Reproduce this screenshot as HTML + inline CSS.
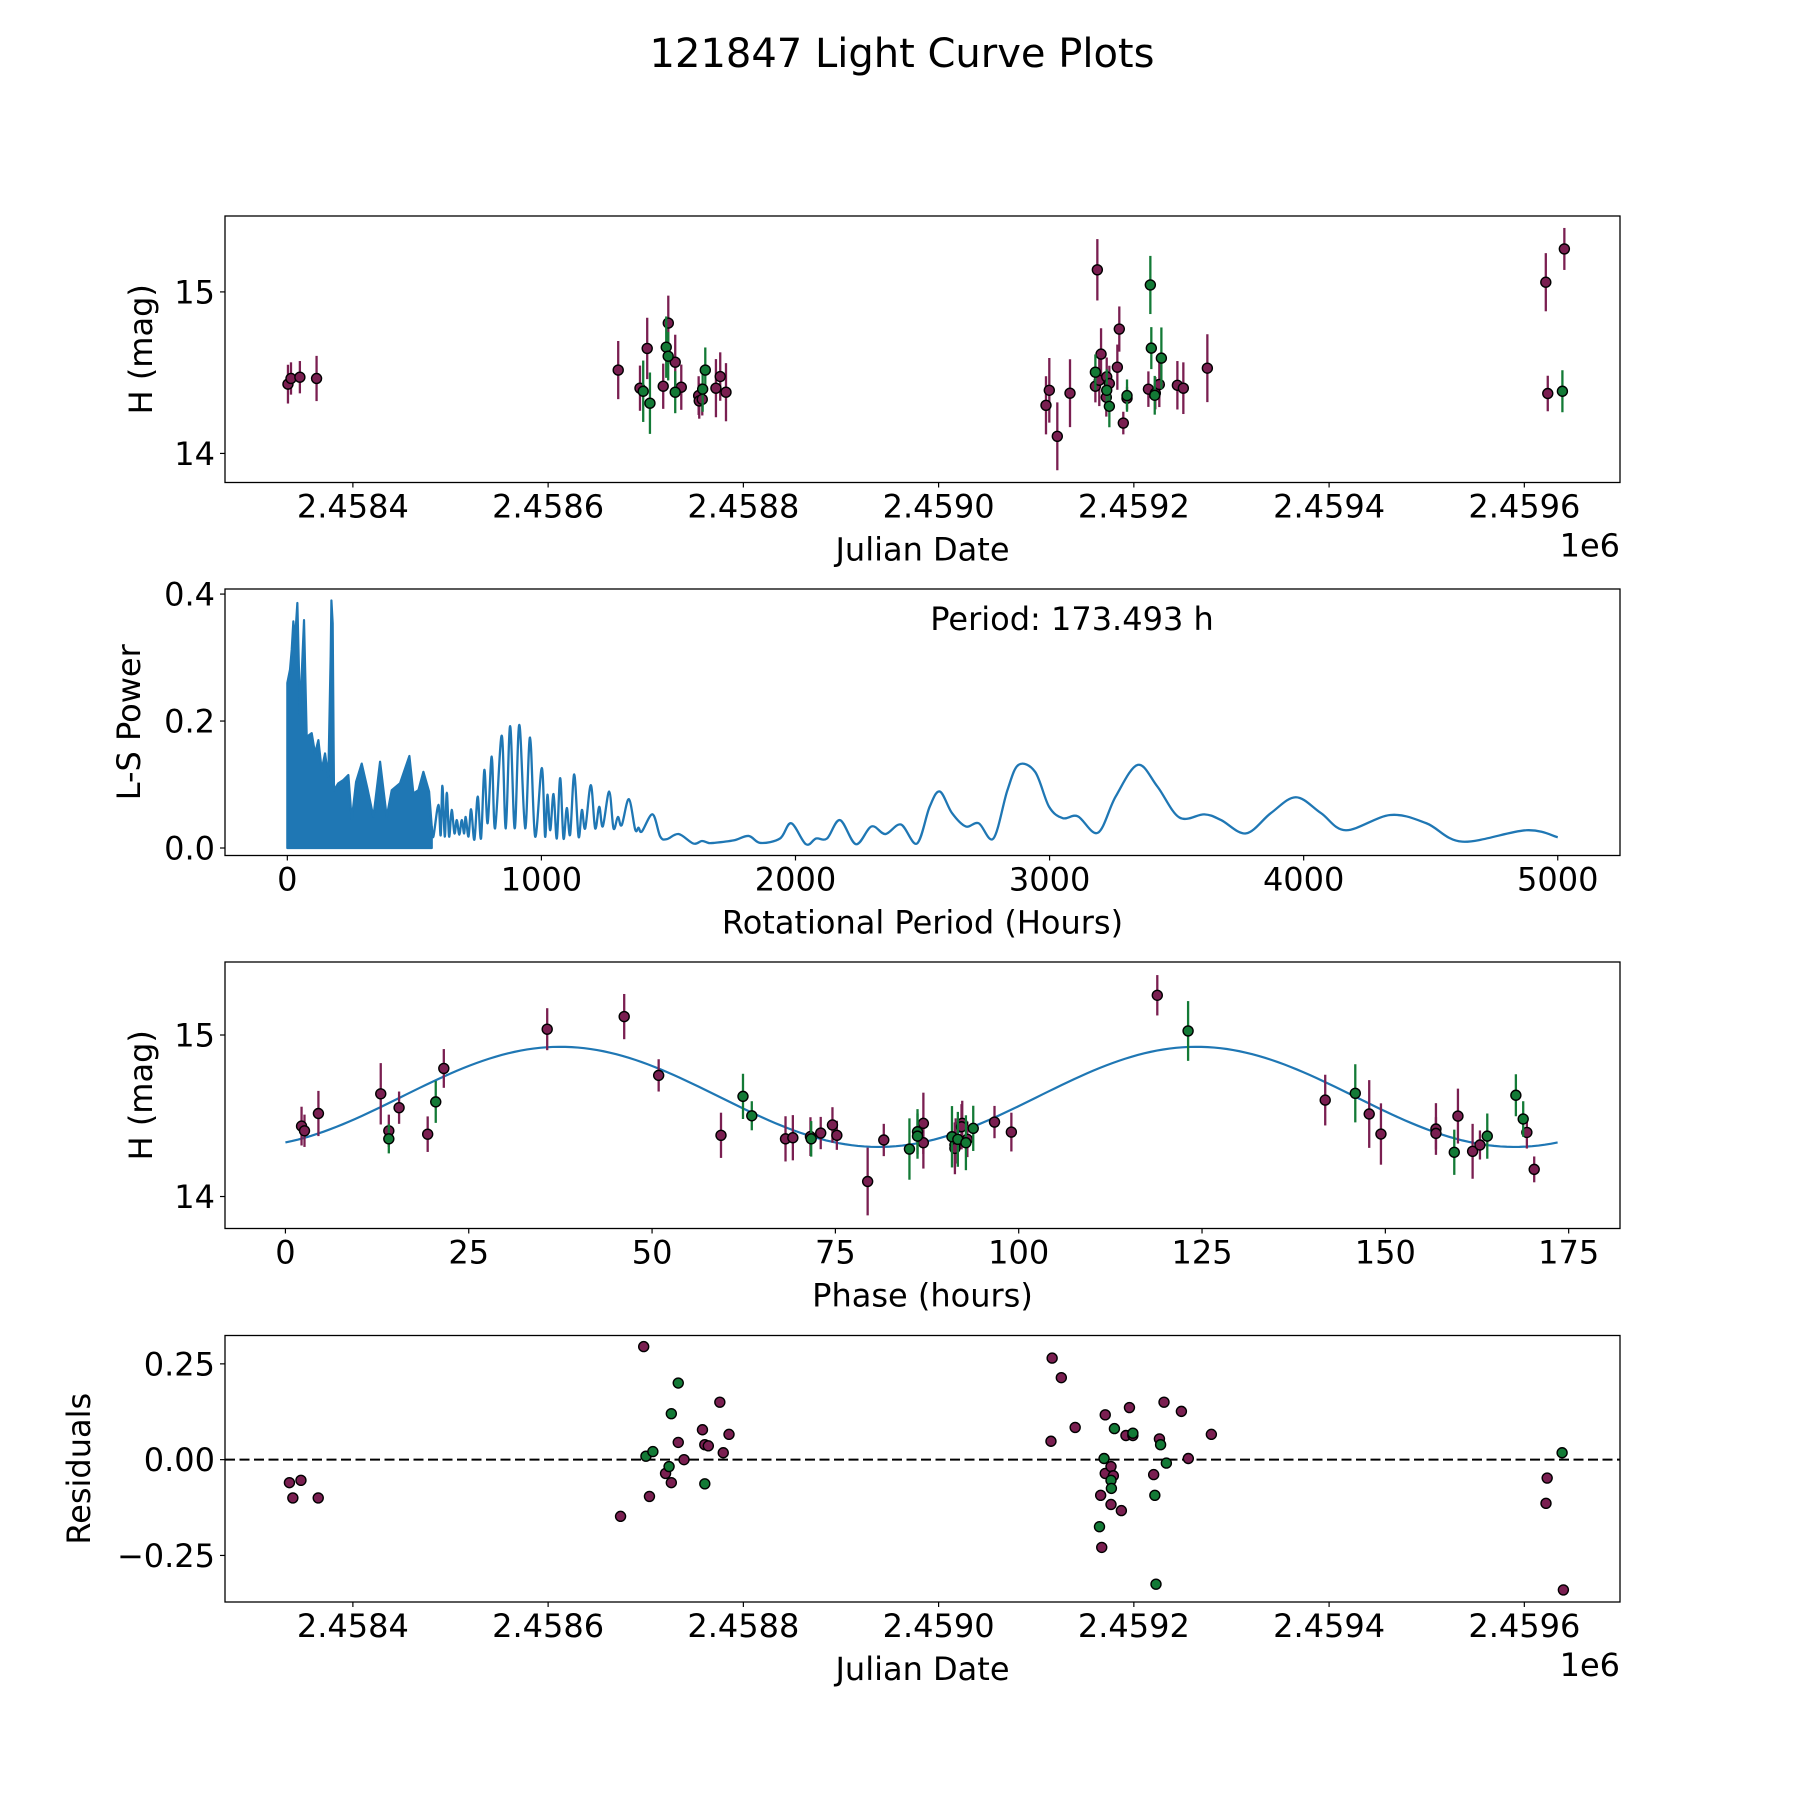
<!DOCTYPE html>
<html><head><meta charset="utf-8"><title>121847 Light Curve Plots</title>
<style>
html,body{margin:0;padding:0;background:#fff;}
svg{display:block;font-family:"DejaVu Sans","Liberation Sans",sans-serif;}
</style></head>
<body>
<svg id="fig" width="1800" height="1800" viewBox="0 0 1800 1800" xmlns="http://www.w3.org/2000/svg">
<rect width="1800" height="1800" fill="#fff"/>
<text x="902" y="67" font-size="40" text-anchor="middle" fill="#000">121847 Light Curve Plots</text>
</svg>
<script>
// ---------- Panel 1: light curve vs Julian date ----------
const p1PurpleJD = [2458333.5,2458336.6,2458345.7,2458362.8,2458671.8,2458694.1,2458701.5,2458723.1,2458730.2,2458717.9,2458736.4,2458754.2,2458754.8,2458757.9,2458771.9,2458776.3,2458782.2,2459162.6,2459185.1,2459166.4,2459183.1,2459113.4,2459110.0,2459134.6,2459121.6,2459160.6,2459164.6,2459172.2,2459174.9,2459171.8,2459193.0,2459189.2,2459214.9,2459222.0,2459226.1,2459244.6,2459250.7,2459275.3,2459622,2459641,2459624];
const p1PurpleH = [14.429,14.464,14.472,14.464,14.516,14.404,14.650,14.807,14.565,14.416,14.410,14.358,14.325,14.335,14.404,14.476,14.379,15.137,14.770,14.615,14.534,14.391,14.298,14.373,14.106,14.416,14.453,14.474,14.433,14.348,14.342,14.188,14.398,14.373,14.427,14.422,14.404,14.528,15.060,15.266,14.371];
const p1PurpleErr = [0.12,0.1,0.1,0.14,0.18,0.14,0.19,0.17,0.17,0.14,0.14,0.12,0.11,0.1,0.18,0.15,0.18,0.19,0.14,0.16,0.14,0.2,0.18,0.21,0.21,0.1,0.16,0.12,0.11,0.12,0.07,0.07,0.11,0.1,0.14,0.15,0.16,0.21,0.18,0.13,0.11];
const p1GreenJD = [2458697.4,2458704.3,2458721.0,2458723.0,2458730.2,2458758.3,2458761.0,2459160.6,2459172.2,2459174.9,2459193.0,2459216.9,2459217.9,2459228.2,2459221.4,2459639];
const p1GreenH = [14.385,14.311,14.658,14.602,14.379,14.398,14.516,14.503,14.391,14.292,14.358,15.043,14.652,14.590,14.360,14.385];
const p1GreenErr = [0.19,0.19,0.19,0.15,0.13,0.14,0.14,0.11,0.13,0.13,0.1,0.18,0.13,0.19,0.12,0.13];
const jdTicks = [2458400,2458600,2458800,2459000,2459200,2459400,2459600];
const jdTickLabels = ["2.4584","2.4586","2.4588","2.4590","2.4592","2.4594","2.4596"];
const magTicks = [14,15];
const magTickLabels = ["14","15"];

// ---------- Panel 2: periodogram ----------
const lsNoisyPeriod = [0,10.6,17.2,23.7,30.3,39.5,50.0,65.7,76.3,95.9,109.0,122.2,135.2,148.4,161.4,170.5,173.5,178.5,183.6,200.8,220.5,240.2,253.4,270.5,292.8,315.1,338.7,365.0,391.2,410.9,443.7,480.4,496.1,515.9,535.5,557.9,568.4];
const lsNoisyPower = [0.260,0.281,0.312,0.357,0.328,0.386,0.210,0.359,0.175,0.181,0.149,0.170,0.123,0.149,0.112,0.302,0.390,0.354,0.091,0.102,0.107,0.115,0.044,0.104,0.133,0.094,0.049,0.136,0.049,0.091,0.102,0.145,0.086,0.091,0.120,0.089,0.034];
const lsPeriod = [568.4,574.9,594.5,603.6,610.3,619.6,627.7,636.7,646.8,657.8,666.9,676.9,686.5,696.0,702.0,713.1,723.1,736.2,749.3,762.3,775.4,788.4,804.5,817.6,843.7,859.8,876.9,895.0,913.0,936.1,955.2,975.3,1001.5,1014.5,1023.6,1034.6,1047.7,1060.7,1073.8,1086.9,1099.9,1113.0,1129.1,1146.2,1159.2,1172.3,1194.4,1211.5,1227.5,1241.6,1266.7,1283.8,1300.9,1316.0,1344.1,1369.2,1382.3,1395.4,1437.5,1467.7,1493.8,1540.0,1598.3,1631.5,1657.6,1677.7,1756.1,1815.4,1862,1939,1983,2041,2081,2124,2175,2238,2299,2354,2415,2478,2528,2568,2616,2670,2721,2779,2834,2878,2943,2998,3052,3111,3190,3260,3347,3424,3511,3609,3675,3773,3871,3969,4068,4166,4341,4483,4624,4876,5000];
const lsPower = [0.034,0.018,0.068,0.020,0.098,0.018,0.087,0.018,0.060,0.023,0.044,0.021,0.044,0.023,0.049,0.018,0.061,0.013,0.081,0.015,0.123,0.039,0.144,0.031,0.177,0.031,0.192,0.031,0.194,0.031,0.174,0.018,0.126,0.018,0.084,0.028,0.085,0.015,0.110,0.015,0.063,0.021,0.116,0.018,0.060,0.031,0.099,0.031,0.065,0.034,0.089,0.031,0.049,0.036,0.077,0.029,0.032,0.026,0.053,0.018,0.014,0.022,0.007,0.011,0.008,0.008,0.012,0.019,0.008,0.015,0.039,0.006,0.015,0.015,0.044,0.006,0.034,0.022,0.037,0.007,0.065,0.089,0.055,0.034,0.039,0.015,0.091,0.131,0.120,0.065,0.047,0.050,0.024,0.081,0.131,0.097,0.048,0.053,0.044,0.023,0.055,0.080,0.055,0.028,0.052,0.039,0.010,0.028,0.017];
const periodTicks = [0,1000,2000,3000,4000,5000];
const periodTickLabels = ["0","1000","2000","3000","4000","5000"];
const powerTicks = [0,0.2,0.4];
const powerTickLabels = ["0.0","0.2","0.4"];

// ---------- Panel 3: phase-folded ----------
const phPurpleT = [2.2,2.6,4.5,13.0,14.1,15.5,19.4,21.6,35.7,46.2,50.9,59.4,68.2,69.2,71.6,73.0,74.6,75.2,79.4,81.6,87.0,87.0,91.4,91.3,91.3,92.3,92.2,93.0,96.7,99.0,118.9,141.8,147.8,149.4,156.9,156.9,159.9,161.9,162.9,169.3,170.3];
const phPurpleH = [14.436,14.407,14.514,14.636,14.407,14.55,14.386,14.793,15.036,15.114,14.75,14.379,14.357,14.364,14.371,14.393,14.443,14.379,14.093,14.35,14.453,14.333,14.344,14.319,14.298,14.453,14.432,14.354,14.461,14.399,15.246,14.597,14.511,14.387,14.418,14.391,14.498,14.28,14.319,14.397,14.168];
const phPurpleErr = [0.12,0.1,0.14,0.19,0.1,0.1,0.11,0.12,0.13,0.14,0.1,0.14,0.14,0.14,0.12,0.1,0.11,0.09,0.21,0.1,0.19,0.16,0.14,0.14,0.16,0.14,0.14,0.11,0.1,0.12,0.125,0.157,0.21,0.19,0.16,0.1,0.17,0.17,0.09,0.1,0.08];
const phGreenT = [14.1,20.5,62.4,63.6,71.7,85.1,86.2,86.2,90.9,91.7,92.8,93.8,123.1,145.9,159.4,163.9,167.8,168.8];
const phGreenH = [14.357,14.586,14.62,14.5,14.357,14.294,14.401,14.374,14.37,14.354,14.333,14.422,15.025,14.639,14.274,14.374,14.627,14.48];
const phGreenErr = [0.09,0.13,0.14,0.09,0.11,0.19,0.14,0.14,0.19,0.17,0.17,0.14,0.185,0.18,0.14,0.14,0.13,0.11];
const fitParams = [14.617, 0.31, 37.5, 86.75]; // mean, amplitude, peak phase, fit period (h)
const phaseTicks = [0,25,50,75,100,125,150,175];
const phaseTickLabels = ["0","25","50","75","100","125","150","175"];

// ---------- Panel 4: residuals ----------
const resPurpleJD = [2458335.0,2458338.5,2458346.8,2458364.5,2458674.2,2458697.9,2458703.8,2458720.3,2458726.2,2458733.3,2458739.2,2458758.1,2458760.5,2458764.1,2458775.9,2458779.4,2458785.3,2459116.3,2459125.7,2459115.1,2459139.9,2459170.7,2459166,2459167.1,2459170.7,2459176.6,2459179,2459176.6,2459187.2,2459191.9,2459195.5,2459199,2459220.3,2459226.2,2459230.9,2459248.7,2459255.8,2459279.4,2459623.4,2459622.2,2459640];
const resPurpleVal = [-0.06,-0.10,-0.054,-0.10,-0.148,0.295,-0.096,-0.036,-0.06,0.045,0.0,0.078,0.039,0.036,0.15,0.018,0.066,0.265,0.214,0.048,0.084,0.117,-0.093,-0.229,-0.036,-0.018,-0.042,-0.117,-0.133,0.063,0.136,0.063,-0.039,0.054,0.15,0.126,0.003,0.066,-0.048,-0.114,-0.34];
const resGreenJD = [2458700.2,2458707.3,2458723.9,2458726.2,2458733.3,2458760.5,2459164.8,2459169.5,2459176.6,2459177,2459180.1,2459199,2459221.5,2459222.7,2459227.4,2459233.3,2459638.7];
const resGreenVal = [0.009,0.021,-0.018,0.12,0.2,-0.063,-0.175,0.003,-0.054,-0.075,0.081,0.069,-0.093,-0.325,0.039,-0.009,0.018];
const resTicks = [-0.25,0,0.25];
const resTickLabels = ["\u22120.25","0.00","0.25"];

// ---------- drawing ----------
const svg = document.getElementById('fig');
const NS = 'http://www.w3.org/2000/svg';
const PURPLE = '#7a1f51', GREEN = '#137a36', BLUE = '#1f77b4';
const FS = 32;
function el(tag, attrs, parent) {
  const e = document.createElementNS(NS, tag);
  for (const k in attrs) e.setAttribute(k, attrs[k]);
  (parent || svg).appendChild(e);
  return e;
}
function makeAxes(t, b, x0, x1, y0, y1) {
  const L = 225, R = 1620;
  return { t, b, L, R,
    sx: v => L + (v - x0) / (x1 - x0) * (R - L),
    sy: v => b - (v - y0) / (y1 - y0) * (b - t) };
}
function frame(ax, name, xt, xtl, yt, ytl, xlabel, ylabel, ylabelX, offsetText) {
  const g = el('g', {});
  
  
  xt.forEach((v, i) => {
    const x = ax.sx(v);
    const tk = el('line', {x1: x, x2: x, y1: ax.b, y2: ax.b + 5, stroke: '#000', 'stroke-width': 1.2}, g);
    
    
    const tx = el('text', {x: x, y: ax.b + 35, 'font-size': FS, 'text-anchor': 'middle'}, g);
    tx.textContent = xtl[i];
    
    
  });
  yt.forEach((v, i) => {
    const y = ax.sy(v);
    const tk = el('line', {x1: ax.L - 5, x2: ax.L, y1: y, y2: y, stroke: '#000', 'stroke-width': 1.2}, g);
    
    
    const tx = el('text', {x: ax.L - 10, y: y + 11.5, 'font-size': FS, 'text-anchor': 'end'}, g);
    tx.textContent = ytl[i];
    
    
  });
  const xl = el('text', {x: (ax.L + ax.R) / 2, y: ax.b + 78, 'font-size': FS, 'text-anchor': 'middle'}, g);
  xl.textContent = xlabel;
  
  
  const cy = (ax.t + ax.b) / 2;
  const yl = el('text', {x: ylabelX, y: cy, 'font-size': FS, 'text-anchor': 'middle', transform: 'rotate(-90 ' + ylabelX + ' ' + cy + ')'}, g);
  yl.textContent = ylabel;
  
  
  if (offsetText) {
    const ot = el('text', {x: ax.R, y: ax.b + 74, 'font-size': FS, 'text-anchor': 'end'}, g);
    ot.textContent = offsetText;
    
    
  }
}
function border(ax) {
  const r = el('rect', {x: ax.L, y: ax.t, width: ax.R - ax.L, height: ax.b - ax.t, fill: 'none', stroke: '#000', 'stroke-width': 1.3});
  
  
}
function errPoints(ax, xs, ys, es, color, name) {
  const g = el('g', {});
  
  
  xs.forEach((xv, i) => {
    const x = ax.sx(xv);
    const eb = el('line', {x1: x, x2: x, y1: ax.sy(ys[i] + es[i]), y2: ax.sy(ys[i] - es[i]), stroke: color, 'stroke-width': 2.3}, g);
    
    
  });
  xs.forEach((xv, i) => {
    const c = el('circle', {cx: ax.sx(xv), cy: ax.sy(ys[i]), r: 5, fill: color, stroke: '#000', 'stroke-width': 1.4}, g);
    
    
  });
}
function dots(ax, xs, ys, color, name) {
  const g = el('g', {});
  
  
  xs.forEach((xv, i) => {
    const c = el('circle', {cx: ax.sx(xv), cy: ax.sy(ys[i]), r: 5, fill: color, stroke: '#000', 'stroke-width': 1.4}, g);
    
    
  });
}
function smoothPath(pts) {
  let d = 'M' + pts[0][0].toFixed(2) + ',' + pts[0][1].toFixed(2);
  for (let i = 0; i < pts.length - 1; i++) {
    const p0 = pts[Math.max(0, i - 1)], p1 = pts[i], p2 = pts[i + 1], p3 = pts[Math.min(pts.length - 1, i + 2)];
    const c1 = [p1[0] + (p2[0] - p0[0]) / 6, p1[1] + (p2[1] - p0[1]) / 6];
    const c2 = [p2[0] - (p3[0] - p1[0]) / 6, p2[1] - (p3[1] - p1[1]) / 6];
    d += 'C' + c1[0].toFixed(2) + ',' + c1[1].toFixed(2) + ' ' + c2[0].toFixed(2) + ',' + c2[1].toFixed(2) + ' ' + p2[0].toFixed(2) + ',' + p2[1].toFixed(2);
  }
  return d;
}

// Panel 1
const ax1 = makeAxes(216, 482.5, 2458269, 2459698, 13.82, 15.47);
frame(ax1, 'lightcurve-axes', jdTicks, jdTickLabels, magTicks, magTickLabels, 'Julian Date', 'H (mag)', 152, '1e6');
errPoints(ax1, p1PurpleJD, p1PurpleH, p1PurpleErr, PURPLE, 'purple-series');
errPoints(ax1, p1GreenJD, p1GreenH, p1GreenErr, GREEN, 'green-series');
border(ax1);

// Panel 2
const ax2 = makeAxes(589, 855.5, -245.3, 5245, -0.0118, 0.408);
frame(ax2, 'periodogram-axes', periodTicks, periodTickLabels, powerTicks, powerTickLabels, 'Rotational Period (Hours)', 'L-S Power', 140, null);
let fillD = 'M' + ax2.sx(lsNoisyPeriod[0]) + ',' + ax2.sy(0);
lsNoisyPeriod.forEach((p, i) => { fillD += 'L' + ax2.sx(p).toFixed(2) + ',' + ax2.sy(lsNoisyPower[i]).toFixed(2); });
fillD += 'L' + ax2.sx(lsNoisyPeriod[lsNoisyPeriod.length - 1]).toFixed(2) + ',' + ax2.sy(0) + 'Z';
const nf = el('path', {d: fillD, fill: BLUE, stroke: BLUE, 'stroke-width': 2.2, 'stroke-linejoin': 'round'});


const lsPts = lsPeriod.map((p, i) => [ax2.sx(p), ax2.sy(lsPower[i])]);
const lsLine = el('path', {d: smoothPath(lsPts), fill: 'none', stroke: BLUE, 'stroke-width': 2.3});


const perText = el('text', {x: 1072, y: 630, 'font-size': FS, 'text-anchor': 'middle'});
perText.textContent = 'Period: 173.493 h';


border(ax2);

// Panel 3
const ax3 = makeAxes(962, 1228.5, -8.24, 182.0, 13.802, 15.452);
frame(ax3, 'phase-axes', phaseTicks, phaseTickLabels, magTicks, magTickLabels, 'Phase (hours)', 'H (mag)', 152, null);
const fitPts = [];
for (let k = 0; k <= 200; k++) {
  const t = 173.493 * k / 200;
  fitPts.push([ax3.sx(t), ax3.sy(fitParams[0] + fitParams[1] * Math.cos(2 * Math.PI * (t - fitParams[2]) / fitParams[3]))]);
}
const fitLine = el('polyline', {points: fitPts.map(p => p[0].toFixed(2) + ',' + p[1].toFixed(2)).join(' '), fill: 'none', stroke: BLUE, 'stroke-width': 2.2});


errPoints(ax3, phPurpleT, phPurpleH, phPurpleErr, PURPLE, 'phase-purple-series');
errPoints(ax3, phGreenT, phGreenH, phGreenErr, GREEN, 'phase-green-series');
border(ax3);

// Panel 4
const ax4 = makeAxes(1335.5, 1602, 2458269, 2459698, -0.3715, 0.324);
frame(ax4, 'residuals-axes', jdTicks, jdTickLabels, resTicks, resTickLabels, 'Julian Date', 'Residuals', 90, '1e6');
const zl = el('line', {x1: ax4.L, x2: ax4.R, y1: ax4.sy(0), y2: ax4.sy(0), stroke: '#000', 'stroke-width': 2, 'stroke-dasharray': '10,4.5'});


dots(ax4, resPurpleJD, resPurpleVal, PURPLE, 'residual-purple-series');
dots(ax4, resGreenJD, resGreenVal, GREEN, 'residual-green-series');
border(ax4);
</script>
</body></html>
